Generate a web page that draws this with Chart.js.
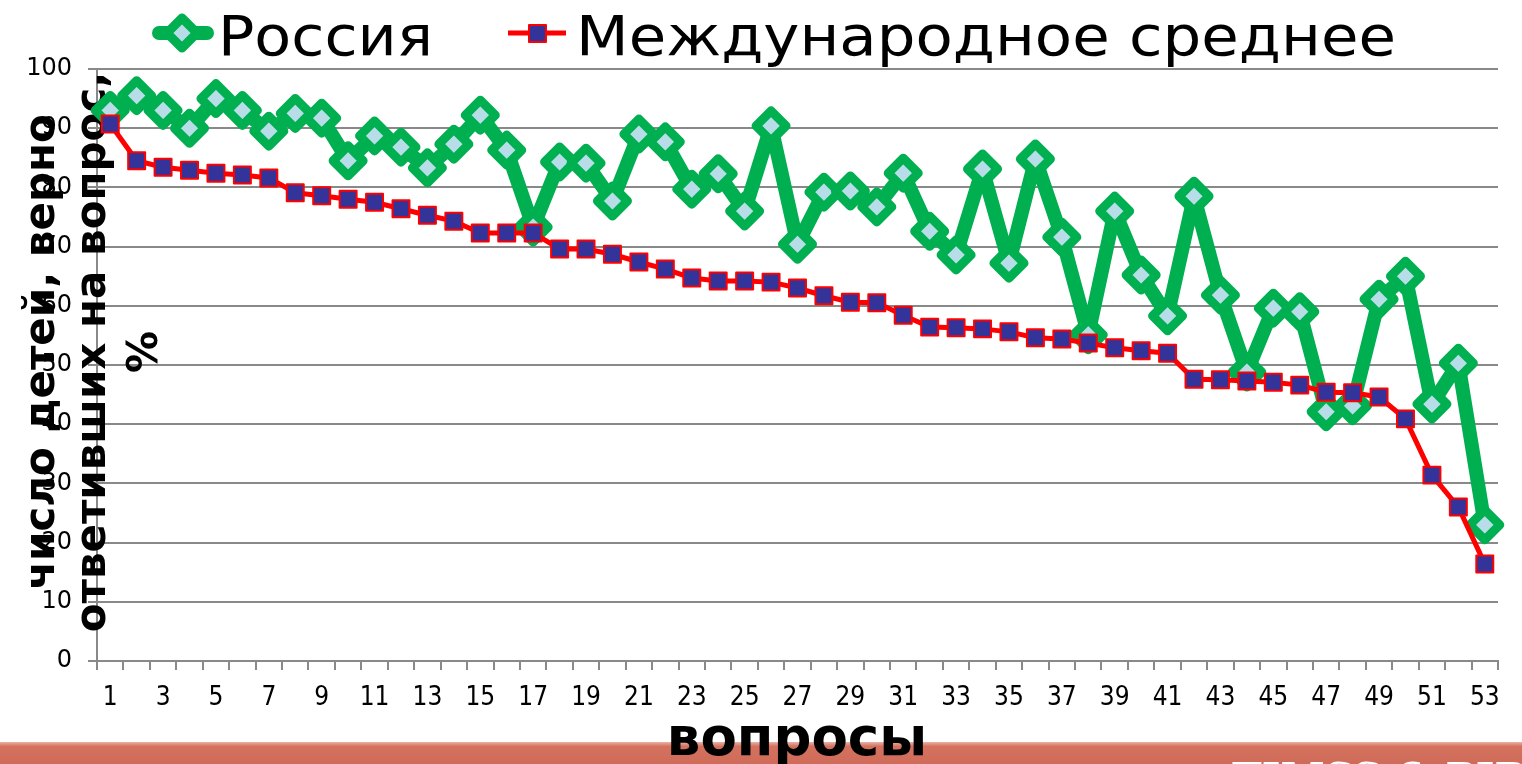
<!DOCTYPE html>
<html lang="ru">
<head>
<meta charset="utf-8">
<title>Россия и международное среднее</title>
<script src="https://cdn.jsdelivr.net/npm/chart.js@4/dist/chart.umd.min.js"></script>
<style>
  html, body { margin: 0; padding: 0; background: #fff; }
  #wrap { width: 1522px; height: 764px; position: relative; }
</style>
</head>
<body>
<div id="wrap"><canvas id="chart"></canvas></div>
<script>
const QUESTIONS = ["1", "2", "3", "4", "5", "6", "7", "8", "9", "10",
  "11", "12", "13", "14", "15", "16", "17", "18", "19", "20",
  "21", "22", "23", "24", "25", "26", "27", "28", "29", "30",
  "31", "32", "33", "34", "35", "36", "37", "38", "39", "40",
  "41", "42", "43", "44", "45", "46", "47", "48", "49", "50",
  "51", "52", "53"];

const RUSSIA = [93, 95.5, 93, 90, 95, 93, 89.5, 92.5, 91.7, 84.5,
  88.7, 86.8, 83.3, 87.3, 92.2, 86.3, 73.3, 84.3, 84.1, 77.7,
  89, 87.7, 79.7, 82.3, 76, 90.4, 70.4, 79.2, 79.4, 76.7,
  82.4, 72.6, 68.6, 83.1, 67.2, 84.8, 71.6, 55.1, 76, 65.2,
  58.3, 78.5, 61.8, 48.8, 59.6, 59, 42.1, 43.1, 61.1, 65,
  43.4, 50.3, 23];

const INTL_AVG = [90.7, 84.5, 83.4, 82.9, 82.4, 82.1, 81.6, 79.1, 78.6, 78,
  77.5, 76.4, 75.3, 74.3, 72.3, 72.3, 72.3, 69.6, 69.6, 68.7,
  67.4, 66.2, 64.7, 64.2, 64.2, 64, 63, 61.7, 60.6, 60.5,
  58.4, 56.4, 56.3, 56.1, 55.6, 54.6, 54.4, 53.7, 52.9, 52.4,
  52, 47.6, 47.5, 47.3, 47.1, 46.6, 45.4, 45.3, 44.6, 40.9,
  31.4, 26, 16.4];

const SERIES_NAMES = ["Россия", "Международное среднее"];
const X_TITLE = "вопросы";
const Y_TITLE = ["число детей, верно", "ответивших на вопрос,", "%"];
const Y_MIN = 0;
const Y_MAX = 100;
const Y_STEP = 10;

const GREEN = "#00b050";
const GREEN_FILL = "#b7dee8";
const RED = "#ff0000";
const BLUE = "#333399";
const GRID = "#898989";

function diamond(ctx, x, y, r) {
  ctx.beginPath();
  ctx.moveTo(x, y - r);
  ctx.lineTo(x + r, y);
  ctx.lineTo(x, y + r);
  ctx.lineTo(x - r, y);
  ctx.closePath();
}

function fitText(ctx, text, x, baseline, targetW) {
  const w = ctx.measureText(text).width;
  ctx.save();
  ctx.translate(x, baseline);
  ctx.scale(targetW / w, 1);
  ctx.fillText(text, 0, 0);
  ctx.restore();
}

const decor = {
  id: "decor",
  beforeDraw(chart) {
    const { ctx, width, height } = chart;
    ctx.save();
    ctx.fillStyle = "#fff";
    ctx.fillRect(0, 0, width, height);
    // strip along the bottom
    const g = ctx.createLinearGradient(0, 742, 0, height);
    g.addColorStop(0, "#e8b3a6");
    g.addColorStop(0.2, "#d4715f");
    g.addColorStop(1, "#d06b59");
    ctx.fillStyle = g;
    ctx.fillRect(0, 742, width, height - 742);
    ctx.fillStyle = "#fff";
    ctx.font = "bold 40px 'DejaVu Serif'";
    ctx.textBaseline = "top";
    ctx.fillText("TIMSS & PIRLS", 1232, 761);
    ctx.restore();
  },
  beforeDatasetsDraw(chart) {
    const { ctx } = chart;
    ctx.save();
    ctx.fillStyle = "#000";
    ctx.textAlign = "center";
    ctx.textBaseline = "alphabetic";
    ctx.font = "bold 42px 'DejaVu Sans'";
    const xs = [54, 105, 157];
    Y_TITLE.forEach((line, i) => {
      ctx.save();
      ctx.translate(xs[i], 352);
      ctx.rotate(-Math.PI / 2);
      ctx.fillText(line, 0, 0);
      ctx.restore();
    });
    ctx.font = "bold 53px 'DejaVu Sans'";
    ctx.fillText(X_TITLE, 797, 755);
    ctx.restore();
    ctx.lineJoin = "round";
  },
  afterDraw(chart) {
    const { ctx } = chart;
    ctx.save();
    ctx.lineJoin = "round";
    ctx.lineCap = "round";
    // Россия
    ctx.strokeStyle = GREEN;
    ctx.lineWidth = 14;
    ctx.beginPath();
    ctx.moveTo(159, 33);
    ctx.lineTo(207, 33);
    ctx.stroke();
    diamond(ctx, 182, 33, 15);
    ctx.fillStyle = GREEN_FILL;
    ctx.lineWidth = 9;
    ctx.fill();
    ctx.stroke();
    // Международное среднее
    ctx.lineCap = "butt";
    ctx.strokeStyle = RED;
    ctx.lineWidth = 5;
    ctx.beginPath();
    ctx.moveTo(508, 33);
    ctx.lineTo(566, 33);
    ctx.stroke();
    ctx.fillStyle = BLUE;
    ctx.lineWidth = 2;
    ctx.fillRect(529, 25, 17, 17);
    ctx.strokeRect(529, 25, 17, 17);

    ctx.fillStyle = "#000";
    ctx.font = "55px 'DejaVu Sans'";
    ctx.textBaseline = "alphabetic";
    fitText(ctx, SERIES_NAMES[0], 218, 55, 215);
    fitText(ctx, SERIES_NAMES[1], 576, 55, 820);
    ctx.restore();
  }
};

new Chart(document.getElementById("chart"), {
  type: "line",
  data: {
    labels: QUESTIONS,
    datasets: [{
      label: SERIES_NAMES[0],
      data: RUSSIA,
      order: 2,
      borderColor: GREEN,
      borderWidth: 14,
      borderJoinStyle: "round",
      pointStyle: "rectRot",
      pointRadius: 15,
      pointBorderWidth: 9,
      pointBorderColor: GREEN,
      pointBackgroundColor: GREEN_FILL,
      tension: 0,
      clip: false
    }, {
      label: SERIES_NAMES[1],
      data: INTL_AVG,
      order: 1,
      borderColor: RED,
      borderWidth: 5,
      pointStyle: "rect",
      pointRadius: 12,
      pointBorderWidth: 2,
      pointBorderColor: RED,
      pointBackgroundColor: BLUE,
      tension: 0,
      clip: false
    }]
  },
  options: {
    responsive: true,
    maintainAspectRatio: false,
    animation: false,
    events: [],
    layout: { padding: { top: 69, right: 22, bottom: 0, left: 0 } },
    plugins: {
      legend: { display: false },
      title: { display: false },
      tooltip: { enabled: false }
    },
    scales: {
      x: {
        offset: true,
        grid: { offset: true, drawOnChartArea: false, tickLength: 9, color: GRID, lineWidth: 2 },
        border: { color: GRID, width: 2 },
        ticks: {
          autoSkip: false,
          maxRotation: 0,
          minRotation: 0,
          padding: 13,
          color: "#000",
          font: { family: "'Liberation Sans Narrow', 'DejaVu Sans Condensed', sans-serif", size: 26 },
          callback: (v, i) => (i % 2 === 0 ? QUESTIONS[i] : "")
        },
        afterFit: (scale) => { scale.height = 103; }
      },
      y: {
        min: Y_MIN,
        max: Y_MAX,
        grid: { color: GRID, lineWidth: 2, tickLength: 9 },
        border: { color: GRID, width: 2 },
        ticks: {
          stepSize: Y_STEP,
          padding: 16,
          color: "#000",
          font: { family: "'DejaVu Sans'", size: 24 }
        },
        afterFit: (scale) => { scale.width = 97; }
      }
    }
  },
  plugins: [decor]
});
</script>
</body>
</html>
